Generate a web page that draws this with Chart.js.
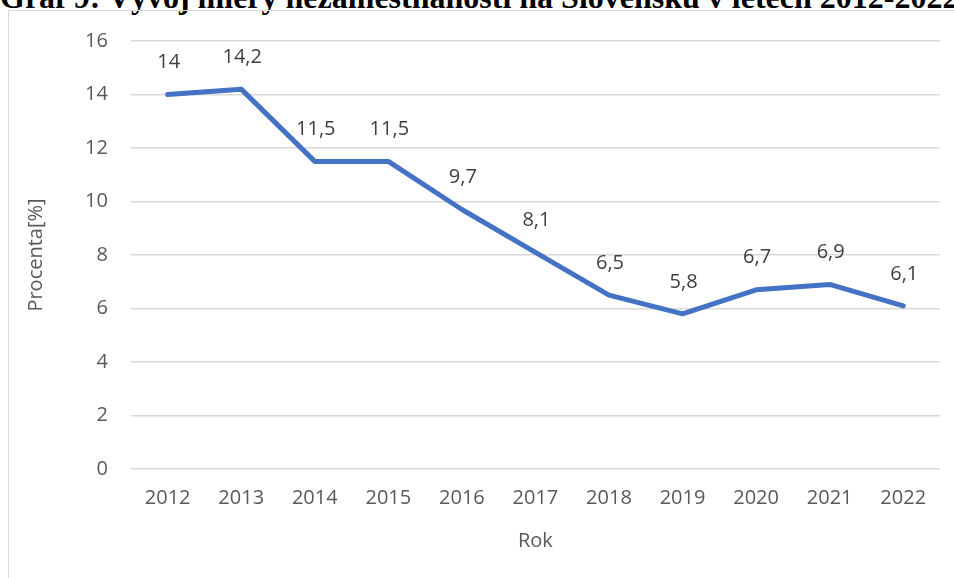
<!DOCTYPE html>
<html>
<head>
<meta charset="utf-8">
<script src="https://cdn.jsdelivr.net/npm/chart.js@4"></script>
<style>
  html, body { margin: 0; padding: 0; background: #fff; overflow: hidden; }
  #wrap { position: relative; width: 954px; height: 578px; overflow: hidden; }
  #title {
    position: absolute; left: 0; top: -21px; white-space: nowrap;
    font: bold 32px "Liberation Serif", serif; color: #000;
  }
  #frame {
    position: absolute; left: 8px; top: 10px; width: 1000px; height: 700px;
    border: 1.5px solid #d9d9d9; box-sizing: border-box;
  }
  #box { position: absolute; left: 10px; top: 6px; width: 944px; height: 572px; }
</style>
</head>
<body>
<div id="wrap">
  <div id="title">Graf 9: Vývoj miery nezamestnanosti na Slovensku v letech 2012-2022</div>
  <div id="frame"></div>
  <div id="box"><canvas id="chartLine"></canvas></div>
</div>
<script>
const years = ['2012', '2013', '2014', '2015', '2016', '2017', '2018', '2019', '2020', '2021', '2022'];
const unemployment = [14, 14.2, 11.5, 11.5, 9.7, 8.1, 6.5, 5.8, 6.7, 6.9, 6.1];
const yTicks = [0, 2, 4, 6, 8, 10, 12, 14, 16];

const ctxLine = document.getElementById("chartLine");

// popisky hodnot nad body
const valueLabels = {
  id: 'valueLabels',
  afterDatasetsDraw(chart) {
    const ctx = chart.ctx;
    const meta = chart.getDatasetMeta(0);
    ctx.save();
    ctx.font = '20px "Open Sans", sans-serif';
    ctx.fillStyle = '#404040';
    ctx.textAlign = 'center';
    ctx.textBaseline = 'middle';
    meta.data.forEach((pt, i) => {
      ctx.fillText(String(unemployment[i]).replace('.', ','), pt.x + 1, pt.y - 32);
    });
    ctx.restore();
  }
};

new Chart(ctxLine, {
  type: "line",
  data: {
    labels: years,
    datasets: [{
      label: 'Miera nezamestnanosti',
      data: unemployment,
      borderColor: "#4472c4",
      borderWidth: 5,
      pointRadius: 0,
      tension: 0,
      borderCapStyle: 'round',
      borderJoinStyle: 'round'
    }]
  },
  options: {
    responsive: true,
    maintainAspectRatio: false,
    animation: false,
    layout: { padding: { top: 7, right: 14, bottom: 21, left: 10 } },
    plugins: {
      legend: { display: false },
      tooltip: { enabled: false }
    },
    scales: {
      x: {
        offset: true,
        grid: { display: false },
        border: { display: false },
        ticks: { color: '#595959', font: { size: 20, family: 'Open Sans' }, padding: 9 },
        title: { display: true, text: 'Rok', color: '#595959', font: { size: 20, family: 'Open Sans' }, padding: { top: 10 } }
      },
      y: {
        min: 0,
        max: 16,
        afterBuildTicks(axis) { axis.ticks = yTicks.map(v => ({ value: v })); },
        grid: { color: '#d9d9d9', lineWidth: 1.5, drawTicks: false },
        border: { display: false },
        ticks: { color: '#595959', font: { size: 20, family: 'Open Sans' }, padding: 23 },
        title: { display: true, text: 'Procenta[%]', color: '#595959', font: { size: 20, family: 'Open Sans' }, padding: { bottom: 14 } }
      }
    }
  },
  plugins: [valueLabels]
});
</script>
</body>
</html>
